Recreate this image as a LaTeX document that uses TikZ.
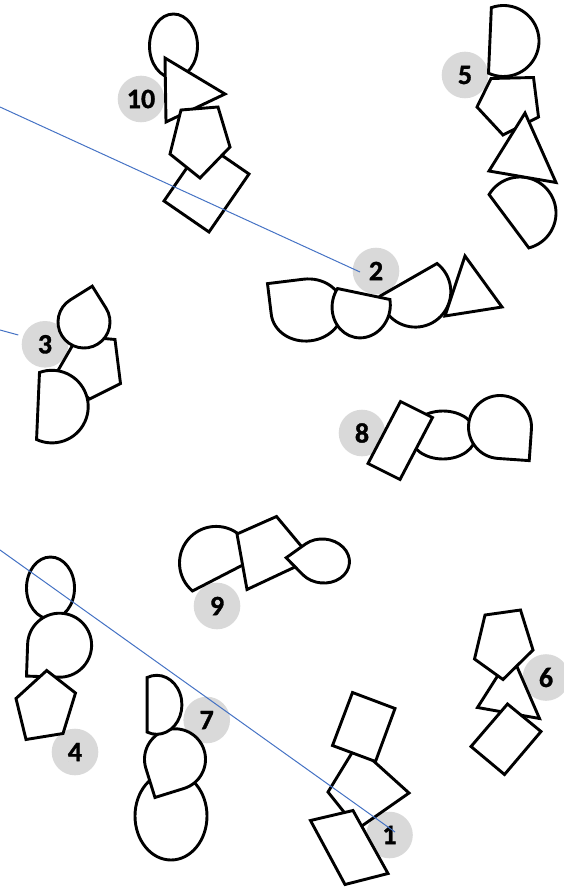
\documentclass[tikz,border=0pt]{standalone}
\usepackage{fontspec}
\setmainfont{Carlito}
\newfontfamily\lblfamily{Carlito Bold}[FakeBold=1.2]
\definecolor{lblgray}{HTML}{D9D9D9}
\definecolor{linkblue}{HTML}{4472C4}
\tikzset{
  shp/.style={draw=black,fill=white,line width=2.9pt,line join=miter},
  lbl/.style={circle,fill=lblgray,minimum size=46.6pt,inner sep=0pt,font=\lblfamily\fontsize{28}{28}\selectfont},
  link/.style={draw=linkblue,line width=1pt},
}
\newcommand\TearDrop[5]{\path[shp,shift={(#1,#2)},rotate=#3,xscale=#4,yscale=#5] (-1,-1) -- (0,-1) arc[start angle=-90,end angle=180,radius=1] -- cycle;}
\newcommand\ChordShape[5]{\path[shp,shift={(#1,#2)},rotate=#3,xscale=#4,yscale=#5] (-22.5:1) arc[start angle=-22.5,end angle=202.5,radius=1] -- cycle;}
\begin{document}
\begin{tikzpicture}[x=1pt,y=1pt,yscale=-1]
\useasboundingbox (0,0) rectangle (564,888);
% group 10
\node[lbl] (n10) at (141,99) {10};
\path[shp] (173.5,46) ellipse[x radius=24,y radius=32];
\path[shp] (165,58) -- (225,94) -- (166,122) -- cycle;
\path[shp] (164,201) -- (209,232) -- (249,174) -- (204,143) -- cycle;
\path[shp] (181,110) -- (218,107) -- (230,147) -- (200,178) -- (170,154) -- cycle;
% group 5
\node[lbl] (n5) at (465,75) {5};
\path[shp] (491,78.5) -- (533.5,77.5) -- (538.5,117) -- (503,135) -- (477,107) -- cycle;
\ChordShape{503.5}{41}{-87.5}{35.5}{35.5}
\ChordShape{520}{213}{233.3}{36}{36}
\path[shp] (525,113) -- (489,171) -- (556,182.5) -- cycle;
% group 2
\node[lbl] (n2) at (376,271) {2};
\TearDrop{307}{310}{-7}{36}{31}
\ChordShape{415.3}{291.6}{-29.8}{35.5}{35.5}
\path[shp] (465,256) -- (502,307) -- (445,316) -- cycle;
\ChordShape{361.2}{306}{11.8}{29}{32}
% group 3
\node[lbl] (n3) at (45,344.3) {3};
\path[shp] (115,339.5) -- (120.5,383.5) -- (89.5,399) -- (58,370.5) -- (78,336) -- cycle;
\TearDrop{84}{322}{58}{26}{26}
\ChordShape{51.9}{406.6}{-87.5}{36.3}{36.3}
% group 8
\node[lbl] (n8) at (362,433) {8};
\path[shp] (443,435) ellipse[x radius=33,y radius=24];
\path[shp] (400.5,401.5) -- (432.5,417.5) -- (400,479.5) -- (368,463.5) -- cycle;
\TearDrop{500}{427}{184}{31.5}{31.5}
% group 9
\node[lbl] (n9) at (217,606) {9};
\ChordShape{216.1}{563}{152.7}{36.6}{36.6}
\path[shp] (237,534) -- (276.5,516.5) -- (312,559) -- (247,589.5) -- cycle;
\path[shp,shift={(323,561)},rotate=5] (-37,0) -- (-135:26.5 and 22) arc[start angle=-135,end angle=135,x radius=26.5,y radius=22] -- cycle;
% group 4
\node[lbl] (n4) at (75,752) {4};
\path[shp] (50.5,588) ellipse[x radius=24,y radius=31];
\TearDrop{59.6}{645.2}{-88}{32}{32}
\path[shp] (46.7,670.5) -- (75.5,693) -- (63,733.5) -- (26,739.5) -- (16,698.5) -- cycle;
% group 7
\node[lbl] (n7) at (206.7,720) {7};
\path[shp] (171,816) ellipse[x radius=36,y radius=44];
\TearDrop{175}{759.3}{-107.3}{30.5}{30.5}
\ChordShape{156.7}{704.8}{-90}{29.5}{25.2}
% group 1
\node[lbl] (n1) at (389.5,835) {1};
\path[shp] (328,792) -- (354,749.5) -- (363,751.5) -- (409,793) -- (357.5,829) -- cycle;
\path[shp] (352.5,692.5) -- (395,708.5) -- (375.5,761.5) -- (332.5,745.5) -- cycle;
\path[shp] (310.5,820.5) -- (353,810.5) -- (388,873.5) -- (345,884.5) -- cycle;
% group 6
\node[lbl] (n6) at (546,677.5) {6};
\path[shp] (511.5,654) -- (539.5,718.5) -- (477.5,707.5) -- cycle;
\path[shp] (485,615) -- (520.5,610) -- (533,650) -- (503,679.5) -- (474.5,659) -- cycle;
\path[shp] (507.5,704) -- (541,731.5) -- (504.5,774.5) -- (471,746.5) -- cycle;
% connectors
\coordinate (s2) at (0,107);
\coordinate (t2) at (360,272);
\coordinate (s3) at (0,330);
\coordinate (t3) at (18.3,335);
\coordinate (s1) at (0,550);
\coordinate (t1) at (395,832);
\draw[link] (s2) -- (t2);
\draw[link] (s3) -- (t3);
\draw[link] (s1) -- (t1);
\end{tikzpicture}
\end{document}
